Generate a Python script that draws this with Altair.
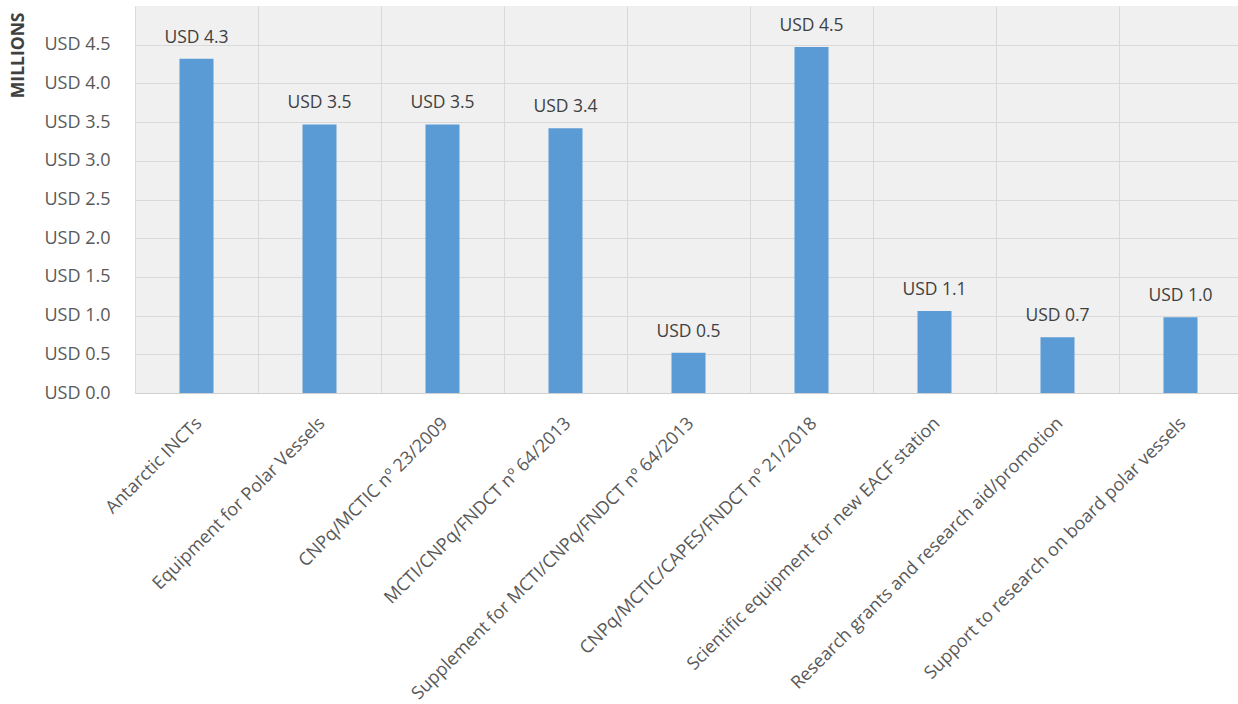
import altair as alt
import pandas as pd

categories = [
    "Antarctic INCTs",
    "Equipment for Polar Vessels",
    "CNPq/MCTIC nº 23/2009",
    "MCTI/CNPq/FNDCT nº 64/2013",
    "Supplement for MCTI/CNPq/FNDCT nº 64/2013",
    "CNPq/MCTIC/CAPES/FNDCT nº 21/2018",
    "Scientific equipment for new EACF station",
    "Research grants and research aid/promotion",
    "Support to research on board polar vessels",
]
values = [4.32, 3.47, 3.47, 3.42, 0.52, 4.47, 1.06, 0.72, 0.98]
value_labels = ["USD 4.3", "USD 3.5", "USD 3.5", "USD 3.4", "USD 0.5",
                "USD 4.5", "USD 1.1", "USD 0.7", "USD 1.0"]
y_ticks = [0, 0.5, 1.0, 1.5, 2.0, 2.5, 3.0, 3.5, 4.0, 4.5]

df = pd.DataFrame({"category": categories, "value": values, "label": value_labels})

FONT = "Open Sans"

x_enc = alt.X(
    "category:N",
    sort=categories,
    scale=alt.Scale(paddingInner=0, paddingOuter=0, range=[0, 1107]),
    axis=alt.Axis(
        title=None,
        labelAngle=-45,
        labelFontSize=18,
        labelColor="#595959",
        labelFont=FONT,
        labelPadding=21,
        labelOffset=-4,
        labelLimit=600,
        ticks=False,
        domain=True,
        domainColor="#d0d0d0",
        grid=True,
        gridColor="#d9d9d9",
        tickBand="extent",
    ),
)
y_enc = alt.Y(
    "value:Q",
    scale=alt.Scale(domain=[0, 5], nice=False),
    axis=alt.Axis(
        title="MILLIONS",
        titleFont=FONT,
        titleFontSize=17.5,
        titleFontWeight="bold",
        titleColor="#404040",
        titleAngle=-90,
        titleAlign="right",
        titleBaseline="middle",
        titleX=-117,
        titleY=6,
        values=y_ticks,
        labelExpr="'USD ' + format(datum.value, '.1f')",
        labelFontSize=18,
        labelFont=FONT,
        labelColor="#595959",
        labelPadding=25,
        ticks=False,
        domain=False,
        grid=True,
        gridColor="#d9d9d9",
    ),
)

bars = alt.Chart(df).mark_bar(color="#5b9bd5", size=34).encode(x=x_enc, y=y_enc)
text = alt.Chart(df).mark_text(
    baseline="alphabetic", dy=-16, fontSize=17.5, font=FONT, color="#404040"
).encode(x=alt.X("category:N", sort=categories), y="value:Q", text="label:N")

chart = (
    alt.layer(bars, text)
    .properties(
        width=1103,
        height=387,
        padding={"left": 135, "top": 6, "right": 0, "bottom": 311},
        autosize=alt.AutoSizeParams(type="none"),
        background="white",
    )
    .configure_view(fill="#f0f0f0", stroke=None)
)

chart.save("out.html", embed_options={"renderer": "svg", "actions": False})
